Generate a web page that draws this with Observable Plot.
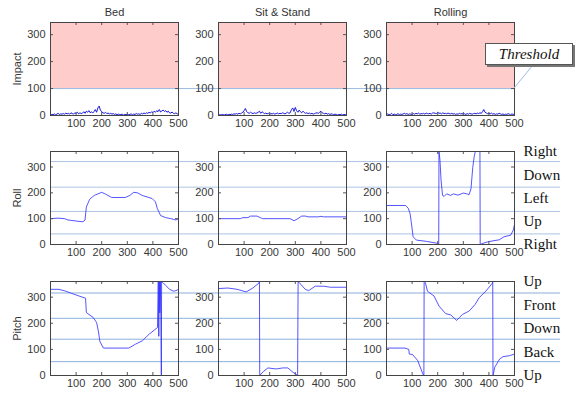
<!DOCTYPE html>
<html><head><meta charset="utf-8">
<script src="https://cdn.jsdelivr.net/npm/d3@7"></script>
<script src="https://cdn.jsdelivr.net/npm/@observablehq/plot@0.6"></script>
<style>
body{margin:0;background:#fff;}
#root{position:relative;width:577px;height:394px;overflow:hidden;background:#fff;}
#root svg{position:absolute;}
.callout{position:absolute;left:485px;top:43px;width:86px;height:20px;border:1px solid #555;background:#fff;box-shadow:2px 2px 0 #777;font:italic 15px "Liberation Serif","Times New Roman",serif;text-align:center;line-height:20px;color:#111;}
</style></head><body><div id="root"></div>
<script>
// ---------- data ----------
const conditions = ["Bed", "Sit & Stand", "Rolling"];
const measures = ["Impact", "Roll", "Pitch"];
const xTicks = [100, 200, 300, 400, 500];
const yTicks = [0, 100, 200, 300];
const impactThreshold = 100;
const rollBoundaries = [321, 222, 128, 41];
const pitchBoundaries = [316, 219, 139, 53];
const directionAngles = [360, 270, 180, 90, 0];
const rollDirections = ["Right", "Down", "Left", "Up", "Right"];
const pitchDirections = ["Up", "Front", "Down", "Back", "Up"];
const thresholdLabel = "Threshold";

// impact samples every 5 points, x = 0..500
const impactStep = 5;
const impactBed = [2,4,3,6,3,5,8,4,6,5, 7,5,9,6,8,5,10,7,6,9, 8,12,6,10,7,9,14,8,16,12,
  18,10,14,9,15,22,12,28,35,20, 14,10,8,12,7,9,6,8,5,7, 4,6,3,5,4,3,5,2,4,3,
  5,3,4,6,3,5,4,7,5,6, 4,8,6,9,7,10,8,12,9,14, 11,16,12,18,14,22,13,17,20,15,
  18,12,16,10,9,13,8,7,10,6, 5];
const impactSit = [2,3,2,4,3,2,5,3,4,3, 5,4,6,5,7,5,8,6,9,12, 18,26,15,10,8,12,9,7,10,8,
  9,12,16,8,14,10,7,9,6,8, 5,7,6,8,5,7,9,6,8,7, 10,8,6,9,12,8,10,22,28,15,
  30,18,12,20,14,10,16,11,8,10, 7,9,6,8,5,7,9,10,8,12, 16,10,8,6,9,5,7,4,6,5,
  3,5,4,2,4,3,5,2,4,3, 2];
const impactRolling = [2,6,3,4,8,3,5,3,4,7, 3,5,4,6,8,5,7,4,6,5, 4,7,5,8,6,9,5,7,6,8,
  5,9,7,6,8,5,9,10,8,7, 12,8,9,6,10,7,8,6,9,7, 6,8,5,7,4,6,5,8,6,7,
  5,6,4,7,5,8,6,5,7,8, 6,9,7,10,8,14,22,12,9,7, 8,6,9,5,7,4,6,5,8,6,
  4,6,3,5,4,7,5,3,6,4, 5];

const rollBed = [[0,100],[30,102],[55,100],[68,95],[107,90],[127,88],[135,95],[140,145],[153,175],[171,190],[200,202],[215,195],[239,182],[292,182],[310,190],[325,202],[340,200],[358,190],[397,178],[410,165],[417,140],[430,112],[450,104],[470,100],[490,95],[500,100]];
const rollSit = [[0,100],[85,100],[95,104],[115,104],[125,110],[150,110],[165,103],[172,100],[280,100],[295,92],[310,100],[325,110],[340,110],[350,107],[390,107],[400,109],[410,107],[500,107]];
const rollRolling = [[0,151],[75,151],[85,140],[92,120],[97,85],[104,30],[117,17],[157,12],[196,5],[204,1],[205,360],[209,325],[213,250],[219,190],[225,186],[235,196],[250,190],[262,196],[279,191],[300,199],[315,196],[322,192],[330,215],[337,299],[343,343],[347,360],[365,360],[366,0],[372,3],[394,10],[420,15],[440,18],[459,30],[485,36],[495,55],[500,77]];

const pitchBed = [[0,330],[33,330],[59,323],[81,315],[107,306],[137,296],[140,241],[167,222],[180,203],[187,170],[193,130],[207,105],[306,105],[332,120],[359,133],[385,158],[418,184],[421,360],[423,150],[425,360],[427,240],[429,360],[431,235],[433,0],[434,360],[440,355],[450,345],[465,330],[480,323],[490,325],[500,330]];
const pitchSit = [[0,333],[37,335],[73,330],[108,320],[134,335],[158,354],[160,360],[161,0],[175,15],[193,29],[225,25],[251,29],[271,29],[290,13],[309,0],[311,360],[316,355],[339,330],[352,325],[378,342],[411,342],[437,338],[500,338]];
const pitchRolling = [[0,105],[72,105],[87,100],[89,82],[102,80],[122,57],[142,6],[146,0],[147,360],[152,355],[160,323],[186,304],[205,266],[231,237],[251,232],[274,211],[285,222],[297,234],[323,247],[346,272],[362,298],[388,323],[414,354],[415,360],[416,0],[423,32],[442,63],[455,72],[481,76],[500,82]];

// ---------- layout ----------
const colLeft = [50, 218, 386];
const rowTop = [22, 151, 281];
const frameH = [93, 93, 94];
const frameW = 128;
const yMax = [345, 360, 360];
const root = document.getElementById("root");
const baseStyle = {background: "transparent", overflow: "visible", fontFamily: "'Liberation Sans', Arial, sans-serif", fontSize: "11px", color: "#383838"};

const toPairs = arr => arr.map((v, i) => [i * impactStep, v]);
const series = [
  [toPairs(impactBed), toPairs(impactSit), toPairs(impactRolling)],
  [rollBed, rollSit, rollRolling],
  [pitchBed, pitchSit, pitchRolling]
];

function place(svg, left, top) {
  svg.style.left = left + "px";
  svg.style.top = top + "px";
  root.appendChild(svg);
}

// guide lines across the figure
function guides(row, values, labels, stroke, marginRight) {
  const fh = frameH[row];
  const marks = [Plot.ruleY(values, {y: d => d, stroke})];
  if (labels) marks.push(Plot.text(labels, {
    y: (d, i) => directionAngles[i], text: d => d, frameAnchor: "right", textAnchor: "start",
    dx: -37, fontSize: 15, fontFamily: "'Liberation Serif', 'Times New Roman', serif", fill: "#111"
  }));
  const svg = Plot.plot({
    width: 577, height: fh + 40, marginLeft: 50, marginRight, marginTop: 20, marginBottom: 20,
    y: {domain: [0, yMax[row]], axis: null}, style: baseStyle, marks
  });
  place(svg, 0, rowTop[row] - 20);
}
guides(0, [impactThreshold], null, "#9dbde3", 63);
guides(1, rollBoundaries, rollDirections, "#abc3e2", 17);
guides(2, pitchBoundaries, pitchDirections, "#8db0da", 17);

function panel(row, col) {
  const fh = frameH[row], fw = frameW;
  const m = {l: 40, r: 8, t: 20, b: 20};
  const marks = [];
  if (row === 0) {
    marks.push(Plot.rect([impactThreshold], {y1: d => d, y2: () => yMax[0], fill: "#ffcccc"}));
    marks.push(Plot.ruleY([impactThreshold], {y: d => d, stroke: "#9dbde3"}));
    marks.push(Plot.text([conditions[col]], {text: d => d, frameAnchor: "top", dy: -14, fontSize: 11, fill: "#333"}));
  }
  marks.push(Plot.line(series[row][col], {x: d => d[0], y: d => d[1], stroke: row === 0 ? "#0000dd" : "#2a2aff", strokeWidth: row === 0 ? 0.9 : 0.8}));
  marks.push(Plot.tickX(xTicks, {x: d => d, insetTop: fh - 3, stroke: "#555"}));
  marks.push(Plot.tickX(xTicks, {x: d => d, insetBottom: fh - 3, stroke: "#555"}));
  marks.push(Plot.tickY(yTicks, {y: d => d, insetRight: fw - 3, stroke: "#555"}));
  marks.push(Plot.tickY(yTicks, {y: d => d, insetLeft: fw - 3, stroke: "#555"}));
  marks.push(Plot.axisX(xTicks, {tickSize: 0, tickPadding: 4, tickFormat: d => String(d), label: null}));
  marks.push(Plot.axisY(yTicks, {tickSize: 0, tickPadding: 5, tickFormat: d => String(d),
    label: col === 0 ? measures[row] : null, labelAnchor: "center", labelArrow: "none", labelOffset: 37, fontSize: 11}));
  marks.push(Plot.frame({stroke: "#444"}));
  const svg = Plot.plot({
    width: fw + m.l + m.r, height: fh + m.t + m.b,
    marginLeft: m.l, marginRight: m.r, marginTop: m.t, marginBottom: m.b,
    x: {domain: [0, 500]}, y: {domain: [0, yMax[row]]},
    style: baseStyle, marks
  });
  place(svg, colLeft[col] - m.l, rowTop[row] - m.t);
}
for (let r = 0; r < 3; r++) for (let c = 0; c < 3; c++) panel(r, c);

// threshold callout
const ns = "http://www.w3.org/2000/svg";
const conn = document.createElementNS(ns, "svg");
conn.setAttribute("width", 577); conn.setAttribute("height", 394);
conn.style.left = "0px"; conn.style.top = "0px";
const ln = document.createElementNS(ns, "line");
ln.setAttribute("x1", 514); ln.setAttribute("y1", 88); ln.setAttribute("x2", 533); ln.setAttribute("y2", 65);
ln.setAttribute("stroke", "#9dbde3");
conn.appendChild(ln);
root.appendChild(conn);
const box = document.createElement("div");
box.className = "callout";
box.textContent = thresholdLabel;
root.appendChild(box);
</script></body></html>
